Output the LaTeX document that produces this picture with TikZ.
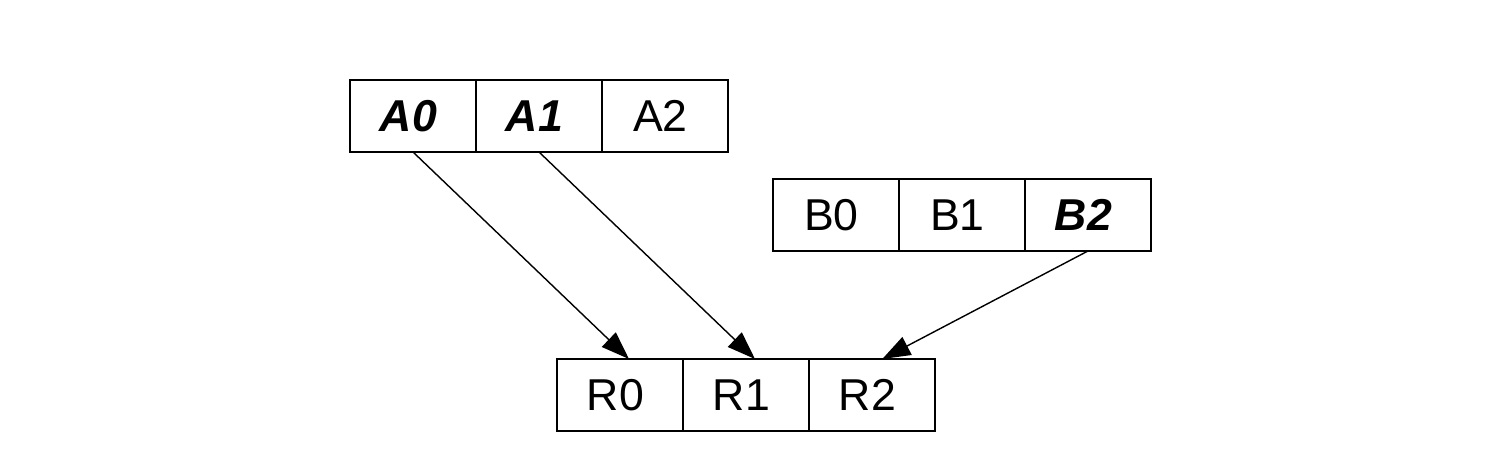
\documentclass[tikz,border=0pt]{standalone}
\usepackage{fontspec}
\setmainfont{Liberation Sans}
\usetikzlibrary{positioning, arrows.meta}

\begin{document}
\begin{tikzpicture}[
    cell/.style={draw, minimum width=1.26cm, minimum height=0.72cm, inner sep=0pt, outer sep=0pt, font=\fontsize{12.7}{15}\selectfont,
        execute at begin node=\hspace*{-0.45mm}, execute at end node=\hspace*{0.45mm}},
    link/.style={-{Triangle[length=2.8mm, width=2.0mm]}, line width=0.4pt},
    node distance=0pt
]
    % Marco de la figura
    \useasboundingbox (0,0) rectangle (14.88,-4.60);

    % Vector A
    \node[cell] (A0) at (4.13,-1.16) {\textbf{\textit{A0}}};
    \node[cell, right=of A0] (A1) {\textbf{\textit{A1}}};
    \node[cell, right=of A1] (A2) {A2};

    % Vector B
    \node[cell] (B0) at (8.36,-2.15) {B0};
    \node[cell, right=of B0] (B1) {B1};
    \node[cell, right=of B1] (B2) {\textbf{\textit{B2}}};

    % Resultado R
    \node[cell] (R0) at (6.20,-3.95) {R0};
    \node[cell, right=of R0] (R1) {R1};
    \node[cell, right=of R1] (R2) {R2};

    % Flechas hacia el resultado
    \draw[link] (A0.south) -- (R0.76);
    \draw[link] (A1.south) -- (R1.76);
    \draw[link] (B2.south) -- (R2.74);
\end{tikzpicture}
\end{document}
